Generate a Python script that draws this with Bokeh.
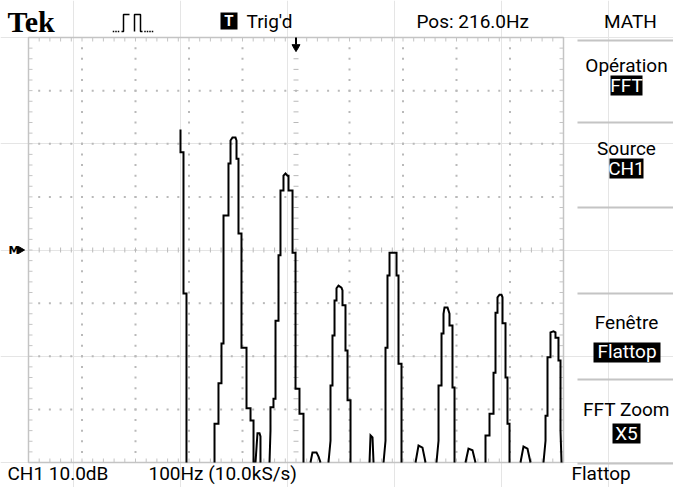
import numpy as np
from bokeh.plotting import figure
from bokeh.embed import file_html
from bokeh.resources import INLINE
from bokeh.core.properties import value

# ---------------- data ----------------
center_hz = 216.0      # "Pos: 216.0Hz"
hz_per_div = 100.0     # "100Hz"
db_per_div = 10.0      # "CH1 10.0dB"
x_divs = 10
y_divs = 8

# FFT trace (Hz, dB), one small list per spectral feature
dc_hz = [0.1, 0.1, 5.7, 5.7, 11.3, 11.3]
dc_db = [22.7, 18.4, 18.4, -8.2, -8.2, -40]

h1_hz = [63.7, 63.7, 71.1, 71.1, 76.7, 76.7, 80.5, 80.5, 89.8, 89.8, 93.6, 93.6, 97.3,
         102.9, 104.8, 104.8, 108.5, 108.5, 114.1, 114.1, 123.5, 123.5, 131.0, 131.0, 136.6, 136.6]
h1_db = [-40, -32.7, -32.7, -25.1, -25.1, -17.6, -17.6, 6.5, 6.5, 16.3, 16.3, 20.6, 21.2,
         21.2, 20.6, 17.2, 17.2, 3.1, 3.1, -18.4, -18.4, -29.8, -29.8, -32.1, -32.1, -40]

n1_hz = [140.3, 144.0, 147.8, 149.6, 149.6]
n1_db = [-40, -34.5, -34.5, -35.1, -40]

h2_hz = [166.5, 168.3, 168.3, 173.9, 173.9, 177.7, 177.7, 183.3, 183.3, 187.0, 187.0, 192.6, 192.6,
         196.4, 200.1, 202.0, 202.0, 209.5, 209.5, 215.1, 215.1, 222.5, 222.5, 230.0, 230.0]
h2_db = [-40, -34.0, -29.6, -29.6, -28.0, -28.0, -13.3, -13.3, -1.0, -1.0, 11.2, 11.2, 14.0,
         14.4, 14.0, 14.0, 11.2, 11.2, -0.5, -0.5, -26.1, -26.1, -30.8, -30.8, -40]

n2_hz = [243.1, 246.8, 254.3, 258.1, 261.8]
n2_db = [-40, -38.1, -38.1, -38.9, -40]

h3_hz = [276.7, 280.5, 280.5, 284.2, 284.2, 288.0, 288.0, 291.7, 291.7, 295.4, 301.0, 302.9,
         302.9, 308.5, 308.5, 312.3, 312.3, 317.9, 317.9]
h3_db = [-40, -35.9, -25.5, -25.5, -16.1, -16.1, -9.5, -9.5, -7.2, -6.7, -7.1, -7.6,
         -10.4, -10.4, -18.9, -18.9, -28.3, -28.3, -40]

n3_hz = [353.4, 355.3, 359.0, 360.9]
n3_db = [-40, -34.9, -35.3, -40]

h4_hz = [379.6, 383.3, 383.3, 387.0, 387.0, 390.8, 390.8, 403.9, 403.9, 407.6, 407.6, 413.2, 413.2]
h4_db = [-40, -35.9, -18.4, -18.4, -4.8, -4.8, -0.5, -0.5, -4.8, -4.8, -21.4, -21.4, -40]

n4_hz = [439.4, 445.0, 452.4, 458.1]
n4_db = [-40, -36.8, -37.2, -40]

h5_hz = [478.6, 482.4, 482.4, 488.0, 488.0, 491.7, 491.7, 493.6, 499.2, 502.9, 502.9, 508.5,
         508.5, 512.3, 512.3]
h5_db = [-40, -35.9, -25.5, -25.5, -15.7, -15.7, -12.0, -10.8, -10.8, -12.0, -14.2, -14.2,
         -25.9, -25.9, -40]

n5_hz = [532.8, 538.4, 545.9, 551.5]
n5_db = [-40, -37.4, -37.7, -40]

h6_hz = [570.2, 570.2, 577.7, 577.7, 585.2, 585.2, 588.9, 588.9, 592.6, 592.6, 596.4, 600.1,
         602.0, 602.0, 607.6, 607.6, 611.3, 611.3, 615.1, 615.1]
h6_db = [-40, -34.9, -34.9, -30.8, -30.8, -23.1, -23.1, -11.8, -11.8, -8.9, -8.4, -8.4,
         -8.9, -13.8, -13.8, -24.0, -24.0, -32.7, -32.7, -40]

n6_hz = [635.6, 641.2, 648.7, 654.3]
n6_db = [-40, -37.0, -37.4, -40]

h7_hz = [678.6, 682.4, 682.4, 686.1, 686.1, 691.7, 691.7, 697.3, 701.0, 701.0, 706.6, 706.6,
         710.4, 710.4, 712.3]
h7_db = [-40, -35.9, -31.2, -31.2, -20.2, -20.2, -15.5, -15.3, -15.5, -16.5, -16.5, -20.8,
         -20.8, -34.0, -40]

top_texts = ["Tek", "Trig'd", "Pos: 216.0Hz", "MATH"]
menu_titles = ["Opération", "Source", "Fenêtre", "FFT Zoom"]
menu_values = ["FFT", "CH1", "Flattop", "X5"]
bottom_texts = ["CH1 10.0dB", "100Hz (10.0kS/s)", "Flattop"]

# ---------------- layout ----------------
W, H = 673, 487
SL, SR, ST, SB = 28, 563, 37, 462          # screen rectangle inside the figure (px)
x_lo = center_hz - hz_per_div * x_divs / 2
x_hi = center_hz + hz_per_div * x_divs / 2
y_lo = -db_per_div * y_divs / 2
y_hi = db_per_div * y_divs / 2
kx = (SR - SL) / (x_hi - x_lo)
ky = (SB - ST) / (y_hi - y_lo)


def tx(px):   # figure px -> data x
    return x_lo + (px - SL) / kx


def ty(py):   # figure px -> data y
    return y_hi - (py - ST) / ky


p = figure(width=W, height=H, x_range=(tx(0), tx(W)), y_range=(ty(H), ty(0)),
           x_axis_location=None, y_axis_location=None, toolbar_location=None,
           output_backend="svg", min_border=0)
p.outline_line_color = None
p.background_fill_color = "white"
p.border_fill_color = "white"

GRID = "#b9b9b9"
BORDER = "#c4c4c4"

minor = 5
mx = np.linspace(x_lo, x_hi, x_divs * minor + 1)
my = np.linspace(y_lo, y_hi, y_divs * minor + 1)
major_x = np.linspace(x_lo, x_hi, x_divs + 1)
major_y = np.linspace(y_lo, y_hi, y_divs + 1)

# dotted graticule
dot_x, dot_y = [], []
for yv in major_y[1:-1]:
    if abs(yv) < 1e-9:
        continue
    dot_x += list(mx[1:-1])
    dot_y += [yv] * (len(mx) - 2)
for xv in major_x[1:-1]:
    if abs(xv - center_hz) < 1e-9:
        continue
    dot_x += [xv] * (len(my) - 2)
    dot_y += list(my[1:-1])
p.scatter(dot_x, dot_y, marker="square", size=2, fill_color=GRID, line_color=None)

# centre lines with small cross dashes
p.scatter(list(mx[1:-1]), [0.0] * (len(mx) - 2), marker="dash", size=5, angle=np.pi / 2,
          line_color=GRID, line_width=1)
p.scatter([center_hz] * (len(my) - 2), list(my[1:-1]), marker="dash", size=5,
          line_color=GRID, line_width=1)

# border and its inward ticks
p.quad(left=[x_lo], right=[x_hi], bottom=[y_lo], top=[y_hi], fill_color=None,
       line_color=BORDER, line_width=1.5)
dx, dy = 4 / kx, 4 / ky
p.segment(x0=list(mx), y0=[y_hi] * len(mx), x1=list(mx), y1=[y_hi - dy] * len(mx),
          line_color=BORDER, line_width=1)
p.segment(x0=list(mx), y0=[y_lo] * len(mx), x1=list(mx), y1=[y_lo + dy] * len(mx),
          line_color=BORDER, line_width=1)
p.segment(x0=[x_lo] * len(my), y0=list(my), x1=[x_lo + dx] * len(my), y1=list(my),
          line_color=BORDER, line_width=1)
p.segment(x0=[x_hi] * len(my), y0=list(my), x1=[x_hi - dx] * len(my), y1=list(my),
          line_color=BORDER, line_width=1)

# trace (pieces below the screen floor are not drawn)
groups = [(dc_hz, dc_db), (h1_hz, h1_db), (n1_hz, n1_db), (h2_hz, h2_db), (n2_hz, n2_db),
          (h3_hz, h3_db), (n3_hz, n3_db), (h4_hz, h4_db), (n4_hz, n4_db), (h5_hz, h5_db),
          (n5_hz, n5_db), (h6_hz, h6_db), (n6_hz, n6_db), (h7_hz, h7_db)]
tr_x, tr_y = [], []
for gx, gy in groups:
    assert len(gx) == len(gy)
    if tr_x:
        tr_x.append(np.nan)
        tr_y.append(np.nan)
    tr_x += gx
    tr_y += gy
p.line(tr_x, tr_y, line_color="black", line_width=2, line_join="miter")

# trigger position arrow and math reference marker
p.segment(x0=[center_hz], y0=[y_hi], x1=[center_hz], y1=[ty(44)], line_color="black", line_width=2)
p.scatter([center_hz], [ty(46.5)], marker="inverted_triangle", size=8, fill_color="black",
          line_color="black")
p.text(x=[tx(8)], y=[0.0], text=["M"], text_font=value("DejaVu Sans"), text_font_size="11px",
       text_font_style="bold", text_align="left", text_baseline="middle", text_color="black")
p.scatter([tx(20)], [0.0], marker="triangle", angle=-np.pi / 2, size=7, fill_color="black",
          line_color="black")

FONT = value("Roboto")
FS = "19px"


def label(px, py, s, align="left", color="black", size=FS, font=FONT, style="normal"):
    # py is the visual middle of the text line
    p.text(x=[tx(px)], y=[ty(py)], text=[s], text_font=font, text_font_size=size,
           text_align=align, text_baseline="middle", text_color=color,
           text_font_style=style)


def inv_label(x0, x1, y0, y1, s, mid):
    p.quad(left=[tx(x0)], right=[tx(x1)], top=[ty(y0)], bottom=[ty(y1)],
           fill_color="black", line_color=None)
    label((x0 + x1) / 2, mid, s, align="center", color="white")


# top bar
label(7, 21, top_texts[0], size="30px", font=value("Liberation Serif"), style="bold")
p.quad(left=[tx(220)], right=[tx(237)], top=[ty(12)], bottom=[ty(29)], fill_color="black",
       line_color=None)
label(228.5, 20.5, "T", align="center", color="white", size="15px", style="bold")
label(246, 21, top_texts[1])
label(416, 21, top_texts[2])
label(630, 21, top_texts[3], align="center")

# trigger-type pulse icon
p.line([tx(121), tx(123), tx(123), tx(129)], [ty(31), ty(31), ty(14), ty(14)],
       line_color="black", line_width=1.5)
p.line([tx(134), tx(134), tx(140), tx(140), tx(142)], [ty(31), ty(14), ty(14), ty(31), ty(31)],
       line_color="black", line_width=1.5)
p.scatter([tx(v) for v in (113, 115.5, 118, 144.5, 147, 149.5, 152)], [ty(31)] * 7,
          marker="square", size=1.5, fill_color="black", line_color=None)

# right-hand menu
CX = 626
sep_y = [40, 122, 207, 293, 379, 463]
p.segment(x0=[tx(577)] * len(sep_y), x1=[tx(673)] * len(sep_y),
          y0=[ty(v) for v in sep_y], y1=[ty(v) for v in sep_y], line_color=BORDER, line_width=2)
label(CX, 65, menu_titles[0], align="center")
inv_label(610, 642, 75, 95, menu_values[0], 85)
label(CX, 148, menu_titles[1], align="center")
inv_label(609, 643, 158, 178, menu_values[1], 168)
label(CX, 322, menu_titles[2], align="center")
inv_label(593, 660, 342, 362, menu_values[2], 351)
label(CX, 409, menu_titles[3], align="center")
inv_label(612, 640, 423, 443, menu_values[3], 433)

# bottom status line
label(7, 473, bottom_texts[0])
label(148, 473, bottom_texts[1])
label(571, 473, bottom_texts[2])

open("out.html", "w").write(file_html(p, INLINE))
